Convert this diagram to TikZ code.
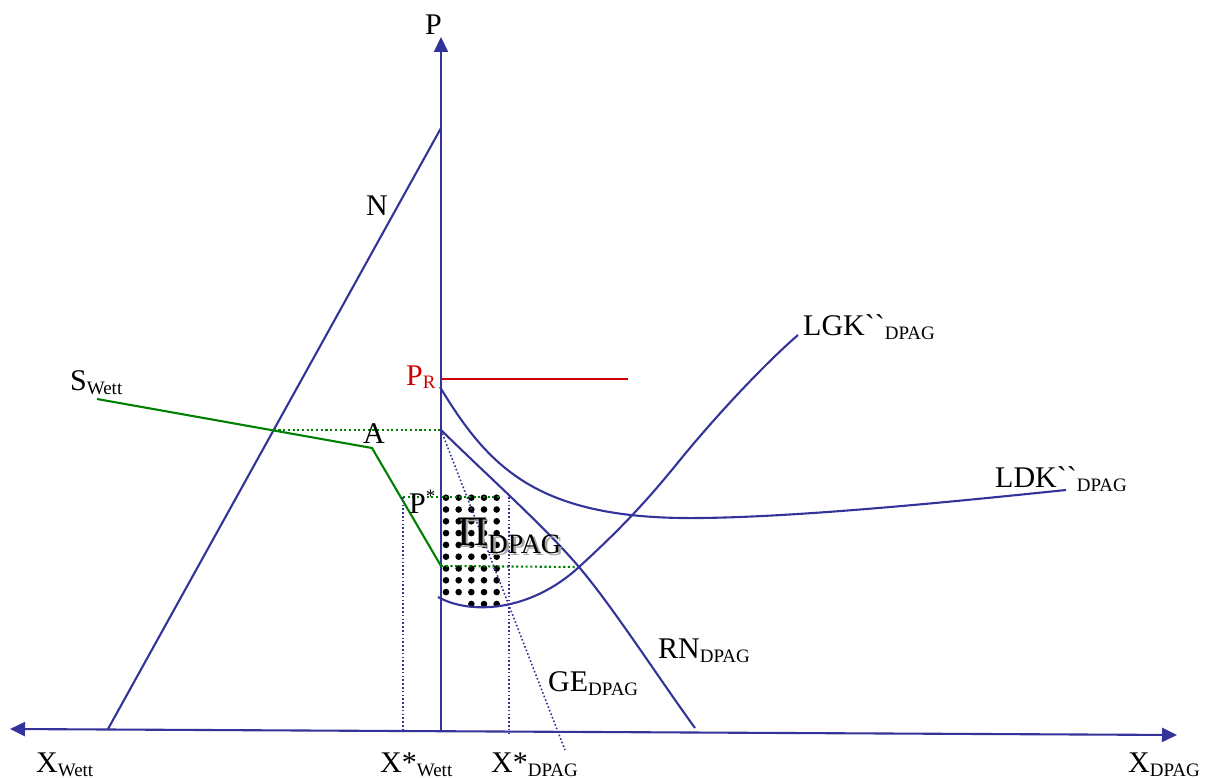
\documentclass[tikz,border=0pt]{standalone}
\usepackage{fontspec}
\setmainfont{Liberation Serif}
\usetikzlibrary{arrows.meta}
\definecolor{axisblue}{RGB}{51,51,153}
\definecolor{mygreen}{RGB}{0,128,0}
\definecolor{myred}{RGB}{204,0,0}
\newcommand{\lsub}[1]{\raisebox{-4pt}{\fontsize{19}{19}\selectfont #1}}
\newcommand{\lsup}[1]{\raisebox{11pt}{\fontsize{19}{19}\selectfont #1}}
\newcommand{\pitext}{\fontsize{42}{42}\selectfont Π\raisebox{-8pt}{\fontsize{28}{28}\selectfont DPAG}}
\begin{document}
\begin{tikzpicture}[x=1pt,y=-1pt,
  lbl/.style={inner sep=0pt,anchor=base west,font=\fontsize{30}{36}\selectfont},
  bline/.style={draw=axisblue,line width=2.1pt},
  gline/.style={draw=mygreen,line width=2.1pt},
  gdot/.style={draw=mygreen,line width=2.1pt,dash pattern=on 2.1pt off 2.6pt},
  bdot/.style={draw=axisblue,line width=1.6pt,dash pattern=on 1.6pt off 2.2pt},
  tip/.style={-{Triangle[length=15pt,width=14pt]}},
  dot/.style={fill=black}]
\useasboundingbox (0,0) rectangle (1210,778);
% coordinates
\coordinate (O) at (441,731);
\coordinate (Ptop) at (441,37);
\coordinate (Xl) at (10,729);
\coordinate (Xr) at (1177,735);
\coordinate (Nb) at (108,729);
\coordinate (Nt) at (441,128);
\coordinate (S0) at (97,399);
\coordinate (Akink) at (372,448);
\coordinate (Sbot) at (441,566);
\coordinate (Nx) at (273.7,430);
\coordinate (PA) at (441,430);
\coordinate (Ps0) at (403,497);
\coordinate (Ps1) at (500,497);
\coordinate (Pd) at (509,497);
\coordinate (Cross) at (579,567);
\coordinate (Xw) at (403,731);
\coordinate (Xd) at (509,733);
\coordinate (GEend) at (565,750);
\coordinate (PR0) at (441,379);
\coordinate (PR1) at (628,379);
\coordinate (LDK0) at (440,387);
\coordinate (LDKm) at (700,518);
\coordinate (LDK1) at (1066,490);
\coordinate (LGK0) at (438,597);
\coordinate (LGKm) at (680,460);
\coordinate (LGK1) at (798,335);
\coordinate (RN1) at (695,728);
% dots
\foreach \r in {0,...,8}{\foreach \c in {0,...,4}{\fill[dot] (446+12.67*\c,497.7+11.8*\r) circle[radius=3.3pt];}}
\foreach \c in {2,3,4}{\fill[dot] (446+12.67*\c,604) circle[radius=3.3pt];}
% axes
\draw[bline,tip] (O) -- (Ptop);
\draw[bline,{Triangle[length=15pt,width=14pt]}-{Triangle[length=15pt,width=14pt]}] (Xl) -- (Xr);
% N
\draw[bline] (Nb) -- (Nt);
% S Wett
\draw[gline] (S0) -- (Akink) -- (Sbot);
% dotted helpers
\draw[gdot] (Nx) -- (PA);
\draw[gdot] (Ps0) -- (Ps1);
\draw[gdot] (Sbot) -- (Cross);
\draw[bdot] (Ps0) -- (Xw);
\draw[bdot] (Pd) -- (Xd);
\draw[bdot] (PA) -- (GEend);
% red
\draw[draw=myred,line width=2.1pt] (PR0) -- (PR1);
% RN
\draw[bline] (PA) .. controls (490,478) and (545,527) .. (Cross)
  .. controls (613,607) and (660,680) .. (RN1);
% LDK
\draw[bline] (LDK0) .. controls (490,470) and (540,520) .. (LDKm)
  .. controls (800,517) and (950,502) .. (LDK1);
% LGK
\draw[bline] (LGK0) .. controls (470,615) and (530,612) .. (Cross)
  .. controls (625,525) and (650,497) .. (LGKm)
  .. controls (710,423) and (760,368) .. (LGK1);
% labels
\node[lbl] (lP) at (425,35) {P};
\node[lbl] (lN) at (366,215) {N};
\node[lbl] (lS) at (70,390) {S\lsub{Wett}};
\node[lbl] (lA) at (363,443) {A};
\node[lbl,text=myred] (lPR) at (406,385) {P\raisebox{-3pt}{\fontsize{19}{19}\selectfont R}};
\node[lbl] (lPs) at (409,513) {P\lsup{*}};
\node[lbl] (lLGK) at (803,335) {LGK\textasciigrave\textasciigrave\lsub{DPAG}};
\node[lbl] (lLDK) at (995,487) {LDK\textasciigrave\textasciigrave\lsub{DPAG}};
\node[lbl] (lRN) at (658,658) {RN\lsub{DPAG}};
\node[lbl] (lGE) at (548,691) {GE\lsub{DPAG}};
\node[lbl] (lXW) at (36,772) {X\lsub{Wett}};
\node[lbl] (lXsW) at (380,772) {X*\lsub{Wett}};
\node[lbl] (lXsD) at (491,772) {X*\lsub{DPAG}};
\node[lbl] (lXD) at (1128,772) {X\lsub{DPAG}};
% Pi label with shadow
\node[lbl] (pi) at (457,545) {\rlap{\hspace{2.5pt}\raisebox{-2.5pt}{\color{black!35}\pitext}}\pitext};
\end{tikzpicture}
\end{document}
